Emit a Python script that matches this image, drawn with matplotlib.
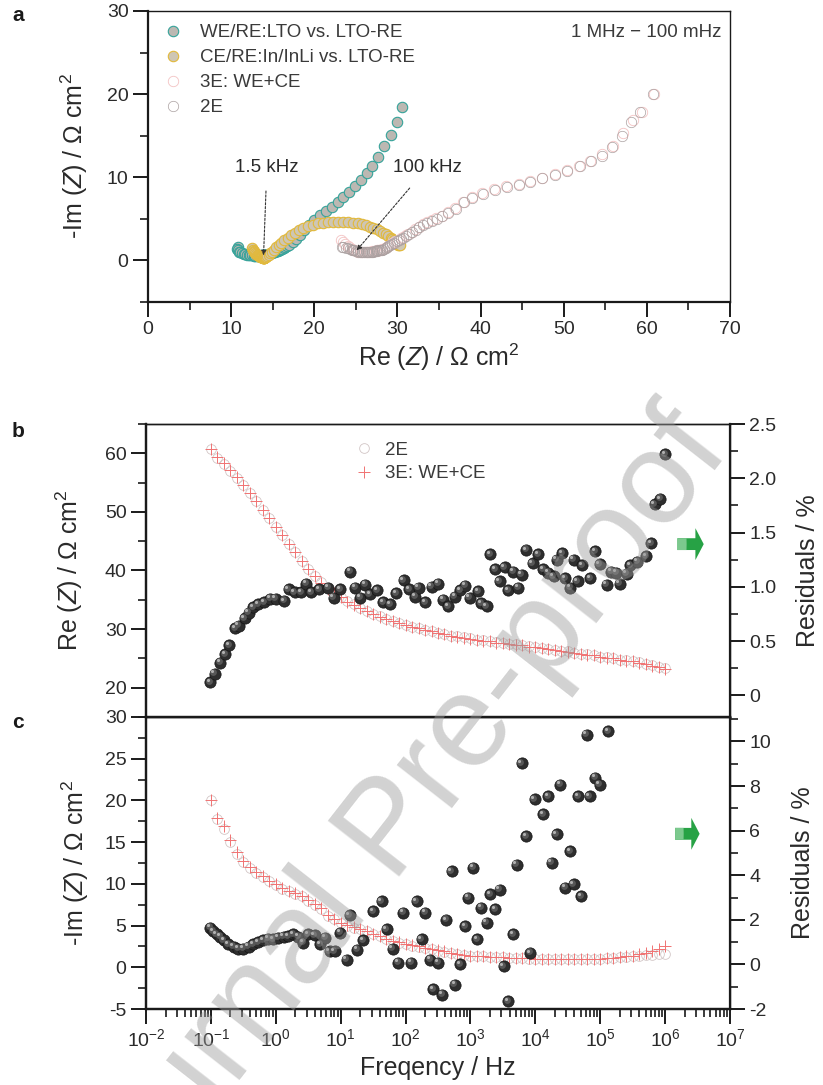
import numpy as np
import matplotlib
matplotlib.use('Agg')
import matplotlib.pyplot as plt
from matplotlib import transforms
from matplotlib.ticker import MultipleLocator, FuncFormatter, LogLocator, NullFormatter

plt.rcParams['font.family'] = ['Liberation Sans', 'DejaVu Sans']
plt.rcParams['mathtext.fontset'] = 'custom'
plt.rcParams['mathtext.rm'] = 'Liberation Sans'
plt.rcParams['mathtext.it'] = 'Liberation Sans:italic'
plt.rcParams['mathtext.default'] = 'regular'
plt.rcParams['axes.unicode_minus'] = False

# frequency sweep 1 MHz -> 100 mHz, 10 points per decade
freq = np.logspace(6, -1, 71)

# 2E cell: Re(Z) and -Im(Z), Ohm cm2
re_2e = [23.3, 23.5, 23.8, 24.0, 24.3, 24.5, 24.7, 24.8, 25.0, 25.2,
         25.3, 25.5, 25.7, 25.8, 26.0, 26.2, 26.3, 26.5, 26.6, 26.8,
         26.9, 27.1, 27.2, 27.4, 27.5, 27.6, 27.8, 27.9, 28.1, 28.2,
         28.4, 28.6, 28.8, 28.9, 29.1, 29.4, 29.6, 29.9, 30.2, 30.4,
         30.7, 31.0, 31.4, 31.8, 32.2, 32.6, 33.1, 33.6, 34.2, 34.8,
         35.4, 36.1, 37.0, 38.0, 39.0, 40.3, 41.7, 43.2, 44.6, 46.0,
         47.4, 48.9, 50.4, 51.9, 53.3, 54.6, 55.8, 57.0, 58.1, 59.2, 60.7]
im_2e = [1.6, 1.55, 1.5, 1.45, 1.4, 1.3, 1.25, 1.2, 1.15, 1.1,
         1.05, 1.05, 1.0, 1.0, 1.0, 1.0, 1.0, 1.0, 1.0, 1.0,
         1.05, 1.05, 1.1, 1.1, 1.15, 1.2, 1.2, 1.25, 1.3, 1.3,
         1.35, 1.45, 1.55, 1.7, 1.85, 2.0, 2.15, 2.3, 2.45, 2.6,
         2.75, 2.95, 3.15, 3.4, 3.7, 4.0, 4.3, 4.55, 4.75, 5.0,
         5.3, 5.75, 6.2, 7.0, 7.5, 8.0, 8.5, 8.8, 9.1, 9.4,
         9.9, 10.3, 10.8, 11.3, 11.9, 12.6, 13.6, 15.0, 16.6, 17.8, 20.0]

# 3E: WE+CE
re_3e = [23.2, 23.5, 23.7, 24.0, 24.2, 24.5, 24.6, 24.8, 25.0, 25.1,
         25.3, 25.5, 25.6, 25.8, 26.0, 26.1, 26.3, 26.4, 26.6, 26.7,
         26.9, 27.0, 27.2, 27.3, 27.5, 27.6, 27.7, 27.9, 28.0, 28.2,
         28.3, 28.5, 28.7, 28.9, 29.1, 29.3, 29.6, 29.8, 30.1, 30.4,
         30.7, 31.0, 31.3, 31.7, 32.1, 32.6, 33.1, 33.6, 34.1, 34.7,
         35.4, 36.1, 36.9, 37.9, 39.0, 40.2, 41.6, 43.1, 44.6, 46.0,
         47.4, 48.9, 50.4, 51.8, 53.2, 54.6, 55.9, 57.1, 58.3, 59.4, 60.8]
im_3e = [2.5, 2.2, 1.95, 1.75, 1.55, 1.4, 1.3, 1.2, 1.15, 1.1,
         1.05, 1.0, 1.0, 1.0, 1.0, 1.0, 1.0, 1.0, 1.05, 1.05,
         1.05, 1.1, 1.1, 1.15, 1.15, 1.2, 1.25, 1.25, 1.3, 1.35,
         1.4, 1.5, 1.6, 1.75, 1.9, 2.05, 2.2, 2.35, 2.5, 2.65,
         2.8, 3.0, 3.2, 3.45, 3.75, 4.05, 4.35, 4.6, 4.8, 5.05,
         5.35, 5.8, 6.3, 7.05, 7.6, 8.1, 8.6, 8.9, 9.2, 9.5,
         9.95, 10.4, 10.9, 11.4, 12.0, 12.8, 13.8, 15.3, 16.9, 17.9, 20.0]

# WE/RE: LTO vs. LTO-RE
re_we = [10.8, 10.7, 10.8, 10.9, 11.1, 11.3, 11.5, 11.7, 11.9, 12.1,
         12.3, 12.5, 12.7, 12.9, 13.1, 13.2, 13.4, 13.5, 13.6, 13.7,
         13.8, 13.9, 14.0, 14.0, 14.1, 14.1, 14.2, 14.2, 14.3, 14.4,
         14.5, 14.6, 14.8, 14.9, 15.0, 15.1, 15.2, 15.3, 15.4, 15.5,
         15.6, 15.7, 15.8, 15.9, 16.0, 16.1, 16.3, 16.5, 16.7, 17.0,
         17.4, 17.8, 18.3, 18.8, 19.4, 20.0, 20.7, 21.4, 22.1, 22.8,
         23.5, 24.2, 24.9, 25.6, 26.3, 27.0, 27.7, 28.4, 29.2, 29.9, 30.6]
im_we = [1.6, 1.4, 1.2, 1.05, 0.95, 0.85, 0.8, 0.75, 0.7, 0.65,
         0.6, 0.6, 0.55, 0.55, 0.55, 0.55, 0.55, 0.55, 0.6, 0.6,
         0.6, 0.6, 0.6, 0.65, 0.65, 0.65, 0.65, 0.65, 0.7, 0.7,
         0.75, 0.8, 0.85, 0.9, 0.95, 1.0, 1.0, 1.05, 1.1, 1.1,
         1.15, 1.2, 1.25, 1.3, 1.35, 1.4, 1.45, 1.55, 1.7, 1.9,
         2.2, 2.6, 3.1, 3.7, 4.3, 4.9, 5.4, 5.9, 6.4, 7.0,
         7.6, 8.2, 8.9, 9.7, 10.5, 11.4, 12.4, 13.7, 15.1, 16.6, 18.5]

# CE/RE: In/InLi vs. LTO-RE
re_ce = [12.5, 12.6, 12.7, 12.8, 12.9, 13.0, 13.1, 13.2, 13.3, 13.4,
         13.5, 13.5, 13.6, 13.6, 13.7, 13.7, 13.8, 13.8, 13.8, 13.9,
         13.9, 13.9, 14.0, 14.0, 14.0, 14.1, 14.1, 14.2, 14.3, 14.5,
         14.7, 14.9, 15.1, 15.4, 15.7, 16.0, 16.4, 16.8, 17.2, 17.7,
         18.2, 18.7, 19.3, 19.9, 20.5, 21.1, 21.7, 22.3, 22.9, 23.5,
         24.1, 24.7, 25.2, 25.7, 26.2, 26.7, 27.1, 27.5, 27.9, 28.3,
         28.6, 28.9, 29.2, 29.4, 29.6, 29.8, 29.9, 30.0, 30.1, 30.2, 30.3]
im_ce = [1.5, 1.3, 1.15, 1.0, 0.9, 0.8, 0.7, 0.65, 0.6, 0.55,
         0.5, 0.45, 0.4, 0.4, 0.35, 0.35, 0.3, 0.3, 0.3, 0.3,
         0.3, 0.3, 0.3, 0.3, 0.35, 0.35, 0.4, 0.45, 0.5, 0.65,
         0.85, 1.05, 1.3, 1.55, 1.8, 2.1, 2.4, 2.7, 3.0, 3.3,
         3.6, 3.85, 4.1, 4.3, 4.45, 4.55, 4.6, 4.65, 4.65, 4.65,
         4.6, 4.55, 4.45, 4.35, 4.2, 4.05, 3.9, 3.75, 3.55, 3.35,
         3.15, 2.95, 2.75, 2.55, 2.4, 2.25, 2.1, 2.0, 1.9, 1.85, 1.8]

# fit residuals (%) as (log10 f, value)
res_b_logf = [-1.01, -0.94, -0.86, -0.78, -0.72, -0.63, -0.57, -0.48, -0.42, -0.35,
              -0.27, -0.18, -0.09, 0.0, 0.13, 0.2, 0.29, 0.39, 0.47, 0.55,
              0.67, 0.81, 0.89, 0.99, 1.15, 1.22, 1.3, 1.38, 1.45, 1.56,
              1.66, 1.76, 1.86, 1.97, 2.06, 2.15, 2.2, 2.3, 2.4, 2.5,
              2.58, 2.66, 2.76, 2.84, 2.92, 2.99, 3.12, 3.17, 3.25, 3.3,
              3.38, 3.45, 3.53, 3.58, 3.66, 3.74, 3.79, 3.86, 3.96, 4.04,
              4.12, 4.2, 4.28, 4.33, 4.41, 4.46, 4.54, 4.59, 4.65, 4.72,
              4.85, 4.92, 4.99, 5.1, 5.17, 5.25, 5.3, 5.41, 5.46, 5.57,
              5.71, 5.79, 5.84, 5.92, 6.0]
res_b = [0.12, 0.20, 0.30, 0.38, 0.46, 0.62, 0.64, 0.71, 0.76, 0.81,
         0.84, 0.86, 0.89, 0.89, 0.87, 0.98, 0.95, 0.95, 1.03, 0.95,
         0.98, 0.99, 0.90, 0.98, 1.14, 0.99, 0.90, 1.02, 0.93, 0.97,
         0.86, 0.84, 0.94, 1.06, 0.98, 0.91, 0.99, 0.86, 1.00, 1.03,
         0.88, 0.82, 0.91, 0.97, 1.01, 0.90, 0.96, 0.85, 0.82, 1.30,
         1.16, 1.05, 1.18, 0.97, 1.14, 0.99, 1.11, 1.34, 1.22, 1.30,
         1.16, 1.13, 1.10, 1.25, 1.31, 1.08, 0.99, 1.25, 1.05, 1.20,
         1.08, 1.33, 1.21, 1.02, 1.14, 1.13, 1.03, 1.12, 1.20, 1.23,
         1.28, 1.40, 1.76, 1.81, 2.22]

res_c_logf = [-1.01, -0.96, -0.91, -0.86, -0.80, -0.73, -0.65, -0.58, -0.50, -0.42,
              -0.35, -0.27, -0.19, -0.12, -0.04, 0.04, 0.12, 0.19, 0.27, 0.35,
              0.42, 0.50, 0.60, 0.68, 0.76, 0.83, 0.91, 0.99, 1.09, 1.14,
              1.25, 1.35, 1.5, 1.63, 1.71, 1.8, 1.89, 1.96, 2.09, 2.17,
              2.25, 2.3, 2.38, 2.43, 2.5, 2.56, 2.63, 2.71, 2.76, 2.84,
              2.92, 2.97, 3.04, 3.1, 3.17, 3.25, 3.3, 3.38, 3.45, 3.51,
              3.58, 3.66, 3.71, 3.79, 3.86, 3.92, 3.99, 4.12, 4.2, 4.25,
              4.33, 4.38, 4.46, 4.54, 4.59, 4.66, 4.71, 4.79, 4.84, 4.92,
              4.99, 5.12]
res_c = [1.65, 1.50, 1.35, 1.25, 1.10, 0.91, 0.80, 0.71, 0.71, 0.80,
         0.91, 1.01, 1.10, 1.16, 1.13, 1.20, 1.25, 1.28, 1.35, 1.25,
         0.98, 1.35, 1.30, 0.90, 1.20, 0.60, 0.60, 1.42, 0.22, 2.22,
         0.67, 1.10, 2.39, 2.84, 1.57, 0.70, 0.08, 2.32, 0.08, 2.84,
         1.12, 2.32, 0.22, -1.12, 0.08, -1.35, 2.0, 4.18, -0.90, 0.0,
         1.72, 2.99, 4.34, 1.12, 2.54, 1.87, 3.14, 2.47, 3.36, -0.08,
         -1.65, 1.35, 4.48, 9.04, 5.75, 0.52, 7.40, 6.73, 7.55, 4.56,
         5.83, 8.07, 3.44, 5.08, 3.59, 7.55, 3.06, 10.31, 7.55, 8.37,
         8.07, 10.46]

TXT = '#2a2a2a'
ZLAB = '($\\mathit{Z}$) / Ω cm$^2$'

fig = plt.figure(figsize=(8.23, 10.85), dpi=100)
axa = fig.add_axes([0.1798, 0.7217, 0.7072, 0.2682])
axb = fig.add_axes([0.1774, 0.3392, 0.7096, 0.2700])
axc = fig.add_axes([0.1774, 0.0700, 0.7096, 0.2692])


def style(ax, lw_main=1.6):
    for s in ax.spines.values():
        s.set_color('#1a1a1a')
        s.set_linewidth(1.0)
    ax.spines['left'].set_linewidth(lw_main)
    ax.spines['bottom'].set_linewidth(lw_main)
    ax.tick_params(which='major', direction='out', length=11, width=1.4,
                   labelsize=14, colors='#1a1a1a', labelcolor=TXT, pad=3)
    ax.tick_params(which='minor', direction='out', length=5.5, width=1.2,
                   colors='#1a1a1a')


def spheres(ax, x, y):
    ax.scatter(x, y, s=66, c='#2e2e2e', edgecolors='#141414', linewidths=0.5, zorder=4)
    o1 = transforms.offset_copy(ax.transData, fig=fig, x=-1.0, y=1.0, units='points')
    ax.scatter(x, y, s=24, c='#575757', linewidths=0, zorder=5, transform=o1)
    o2 = transforms.offset_copy(ax.transData, fig=fig, x=-1.7, y=1.7, units='points')
    ax.scatter(x, y, s=5, c='#b0b0b0', linewidths=0, zorder=6, transform=o2)


def green_arrow(ax, x0, x1, y):
    # two-tone block arrow, lighter tail like the gradient in the original
    style_str = 'simple,head_length=0.6,head_width=2.3,tail_width=0.85'
    ax.annotate('', xy=(x1, y), xytext=(x0, y), xycoords='axes fraction',
                arrowprops=dict(arrowstyle=style_str, mutation_scale=10,
                                fc='#27a245', ec='none', shrinkA=0, shrinkB=0))
    ax.annotate('', xy=(x0 + (x1 - x0) * 0.35, y), xytext=(x0, y), xycoords='axes fraction',
                arrowprops=dict(arrowstyle='simple,head_length=0.01,head_width=0.85,tail_width=0.85',
                                mutation_scale=10, fc='#7cc98e', ec='none',
                                shrinkA=0, shrinkB=0))


# ---- panel a : Nyquist
axa.plot(re_we, im_we, 'o', ms=7.5, mfc='#bcb8b2', mec='#35a39a', mew=0.8,
         label='WE/RE:LTO vs. LTO-RE')
axa.plot(re_ce, im_ce, 'o', ms=7.5, mfc='#cec6b4', mec='#e2b93b', mew=0.8,
         label='CE/RE:In/InLi vs. LTO-RE')
axa.plot(re_3e, im_3e, 'o', ms=7.5, mfc='white', mec='#f3c3c3', mew=0.6,
         label='3E: WE+CE')
axa.plot(re_2e, im_2e, 'o', ms=7.5, mfc='none', mec='#aaa0a0', mew=0.5,
         label='2E')
axa.set_xlim(0, 70)
axa.set_ylim(-5, 30)
axa.xaxis.set_major_locator(MultipleLocator(10))
axa.xaxis.set_minor_locator(MultipleLocator(5))
axa.yaxis.set_major_locator(MultipleLocator(10))
axa.yaxis.set_minor_locator(MultipleLocator(5))
style(axa)
axa.set_xlabel('Re ' + ZLAB, fontsize=18, color=TXT, labelpad=2)
axa.set_ylabel('-Im ' + ZLAB, fontsize=18, color=TXT, labelpad=12)
leg = axa.legend(loc='upper left', bbox_to_anchor=(0.005, 1.0), frameon=False,
                 fontsize=13.5, handlelength=1.0, handletextpad=0.9,
                 labelspacing=0.42, borderaxespad=0.3)
for t in leg.get_texts():
    t.set_color('#3a3a3a')
axa.text(0.985, 0.925, '1 MHz − 100 mHz', transform=axa.transAxes, ha='right',
         va='center', fontsize=13.5, color='#3a3a3a')
arrow_kw = dict(arrowstyle='-|>', linestyle=(0, (2, 1.5)), lw=0.8, color='#333333',
                mutation_scale=7, shrinkA=9, shrinkB=0)
axa.annotate('1.5 kHz', xy=(13.9, 0.6), xytext=(14.3, 11.2), ha='center', va='center',
             fontsize=13.5, color=TXT, arrowprops=arrow_kw)
axa.annotate('100 kHz', xy=(25.1, 1.2), xytext=(33.6, 11.2), ha='center', va='center',
             fontsize=13.5, color=TXT, arrowprops=arrow_kw)

# ---- panel b : Re(Z) vs f
axb.semilogx(freq, re_2e, 'o', ms=7, mfc='none', mec='#d2c6c6', mew=0.6, label='2E')
axb.semilogx(freq, re_3e, '+', ms=8, mec='#f07272', mew=0.7, label='3E: WE+CE')
axb.set_xlim(1e-2, 1e7)
axb.set_ylim(15, 65)
axb.yaxis.set_major_locator(MultipleLocator(10))
axb.yaxis.set_minor_locator(MultipleLocator(5))
style(axb)
axb.xaxis.set_major_locator(LogLocator(base=10, numticks=20))
axb.xaxis.set_minor_locator(LogLocator(base=10, subs=np.arange(2, 10), numticks=20))
axb.tick_params(axis='x', labelbottom=False)
axb.set_ylabel('Re ' + ZLAB, fontsize=18, color=TXT, labelpad=14)
legb = axb.legend(loc='upper left', bbox_to_anchor=(0.335, 0.985), frameon=False,
                  fontsize=13.5, handlelength=1.0, handletextpad=0.6,
                  labelspacing=0.35, borderaxespad=0.3)
for t in legb.get_texts():
    t.set_color('#3a3a3a')

axb2 = axb.twinx()
spheres(axb2, 10 ** np.array(res_b_logf), res_b)
axb2.set_ylim(-0.2, 2.5)
axb2.yaxis.set_major_locator(MultipleLocator(0.5))
axb2.yaxis.set_minor_locator(MultipleLocator(0.25))
axb2.yaxis.set_major_formatter(FuncFormatter(lambda v, p: '0' if abs(v) < 1e-9 else '%.1f' % v))
style(axb2)
axb2.spines['right'].set_linewidth(1.6)
axb2.set_ylabel('Residuals / %', fontsize=18, color=TXT, labelpad=14)
green_arrow(axb2, 0.910, 0.955, 0.59)

# ---- panel c : -Im(Z) vs f
axc.semilogx(freq, im_2e, 'o', ms=7, mfc='none', mec='#d2c6c6', mew=0.6)
axc.semilogx(freq, im_3e, '+', ms=8, mec='#f07272', mew=0.7)
axc.set_xlim(1e-2, 1e7)
axc.set_ylim(-5, 30)
axc.yaxis.set_major_locator(MultipleLocator(5))
axc.yaxis.set_minor_locator(MultipleLocator(2.5))
style(axc)
axc.xaxis.set_major_locator(LogLocator(base=10, numticks=20))
axc.xaxis.set_minor_locator(LogLocator(base=10, subs=np.arange(2, 10), numticks=20))
axc.xaxis.set_minor_formatter(NullFormatter())
axc.set_ylabel('-Im ' + ZLAB, fontsize=18, color=TXT, labelpad=10)
axc.set_xlabel('Freqency / Hz', fontsize=18, color=TXT, labelpad=4)

axc2 = axc.twinx()
spheres(axc2, 10 ** np.array(res_c_logf), res_c)
axc2.set_ylim(-2, 11.1)
axc2.yaxis.set_major_locator(MultipleLocator(2))
axc2.yaxis.set_minor_locator(MultipleLocator(1))
style(axc2)
axc2.spines['right'].set_linewidth(1.6)
axc2.set_ylabel('Residuals / %', fontsize=18, color=TXT, labelpad=14)
green_arrow(axc2, 0.906, 0.948, 0.60)

# panel letters
for lab, y in (('a', 0.986), ('b', 0.602), ('c', 0.334)):
    fig.text(0.022, y, lab, fontsize=15, fontweight='bold', color='#1a1a1a',
             ha='center', va='center')

# watermark
fig.text(0.475, 0.234, 'Journal Pre-proof', rotation=52, rotation_mode='anchor',
         ha='center', va='center', fontsize=95, color='#9c9c9c', alpha=0.45,
         zorder=100)

fig.savefig('out.png', dpi=100)
